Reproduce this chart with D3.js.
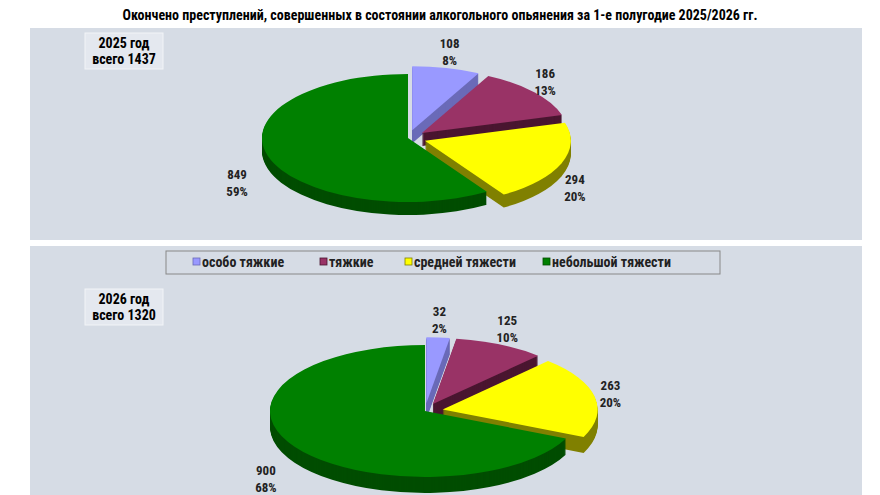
<!DOCTYPE html>
<html><head><meta charset="utf-8">
<script src="https://cdn.jsdelivr.net/npm/d3@7"></script>
<style>body{margin:0;background:#fff}svg{font-family:"Liberation Sans Narrow","Roboto Condensed","Liberation Sans",sans-serif}</style>
</head><body><svg id="c" width="880" height="495"></svg>
<script>
const categories = ["особо тяжкие", "тяжкие", "средней тяжести", "небольшой тяжести"];
const values2025 = [108, 186, 294, 849];
const values2026 = [32, 125, 263, 900];
const pct2025 = ["8%", "13%", "20%", "59%"];
const pct2026 = ["2%", "10%", "20%", "68%"];
const totals = [1437, 1320];
const years = ["2025 год", "2026 год"];

const topColors = ["#9999ff", "#993366", "#ffff00", "#008000"];
const sideColors = ["#6a6ab8", "#4a1630", "#808000", "#004d00"];

const svg = d3.select("#c");
svg.append("rect").attr("x", 30).attr("y", 28).attr("width", 832).attr("height", 212).attr("fill", "#d6dce5");
svg.append("rect").attr("x", 30).attr("y", 246).attr("width", 832).attr("height", 249).attr("fill", "#d6dce5");

svg.append("text").attr("x", 440).attr("y", 20).attr("text-anchor", "middle")
  .attr("font-size", 14).attr("font-weight", "bold")
  .text("Окончено преступлений, совершенных в состоянии алкогольного опьянения за 1-е полугодие 2025/2026 гг.");

function drawPie(vals, pcts, idx, cx, cy, rx, ry, depth, boxY) {
  const g = svg.append("g");
  // year box
  g.append("rect").attr("x", 85).attr("y", boxY).attr("width", 78).attr("height", 36)
    .attr("fill", "#e4e8ef").attr("stroke", "#f2f4f7");
  g.append("text").attr("x", 124).attr("y", boxY + 15).attr("text-anchor", "middle")
    .attr("font-size", 14).attr("font-weight", "bold").text(years[idx]);
  g.append("text").attr("x", 124).attr("y", boxY + 31).attr("text-anchor", "middle")
    .attr("font-size", 14).attr("font-weight", "bold").text("всего " + totals[idx]);

  const arcs = d3.pie().sort(null)(vals);
  const arc = d3.arc().innerRadius(0).outerRadius(rx);
  const k = ry / rx;
  const explode = 18;
  const off = arcs.map((a, i) => {
    const m = (a.startAngle + a.endAngle) / 2;
    const e = i === 3 ? 0 : explode;
    return [Math.sin(m) * e, -Math.cos(m) * e * k];
  });
  // sides
  for (let d = depth; d > 0; d--) {
    arcs.forEach((a, i) => {
      g.append("path").attr("d", arc(a))
        .attr("transform", `translate(${cx + off[i][0]},${cy + off[i][1] + d}) scale(1,${k})`)
        .attr("fill", sideColors[i]);
    });
  }
  // tops
  arcs.forEach((a, i) => {
    g.append("path").attr("d", arc(a))
      .attr("transform", `translate(${cx + off[i][0]},${cy + off[i][1]}) scale(1,${k})`)
      .attr("fill", topColors[i]);
  });
  // labels
  arcs.forEach((a, i) => {
    const m = (a.startAngle + a.endAngle) / 2;
    const lx = cx + Math.sin(m) * rx * 1.22;
    const ly = cy - Math.cos(m) * ry * (Math.cos(m) < 0 ? 1.15 : 1.4) + (Math.cos(m) < 0 ? depth + 10 : 0);
    const t = g.append("text").attr("text-anchor", "middle").attr("font-size", 13)
      .attr("font-weight", "bold").attr("fill", "#222");
    t.append("tspan").attr("x", lx).attr("y", ly - 3).text(vals[i]);
    t.append("tspan").attr("x", lx).attr("y", ly + 14).text(pcts[i]);
  });
}

drawPie(values2025, pct2025, 0, 408, 138, 146, 64, 13, 33);
drawPie(values2026, pct2026, 1, 425, 411, 155, 66, 16, 289);

// legend
const lg = svg.append("g");
lg.append("rect").attr("x", 166).attr("y", 251).attr("width", 554).attr("height", 23)
  .attr("fill", "#d6dce5").attr("stroke", "#888");
const legendX = [193, 320, 405, 543];
categories.forEach((c, i) => {
  lg.append("rect").attr("x", legendX[i]).attr("y", 258).attr("width", 7).attr("height", 7)
    .attr("fill", topColors[i]).attr("stroke", sideColors[i]).attr("stroke-width", 0.8);
  lg.append("text").attr("x", legendX[i] + 9).attr("y", 267).attr("font-size", 14)
    .attr("font-weight", "bold").attr("fill", "#222").text(c);
});
</script></body></html>
